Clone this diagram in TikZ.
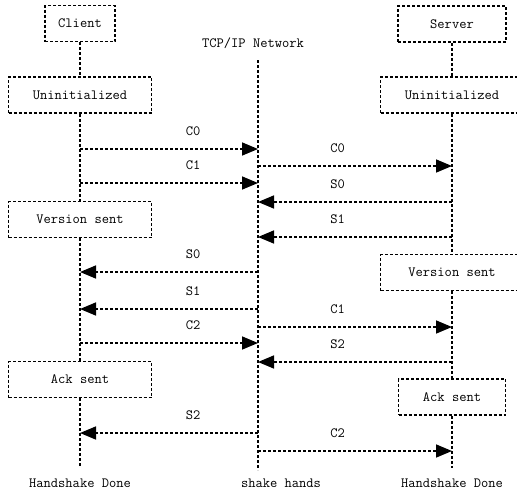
\documentclass[tikz,border=0pt]{standalone}
\usepackage{fontspec}
\usetikzlibrary{
  arrows.meta,
  positioning
}
\tikzset{
  seq/.style={
    line width=1.6pt, dash pattern=on 3pt off 2pt
  },
  phase/.style={
    rectangle, draw, seq,
    minimum width=143pt, minimum height=36pt,
    font=\ttfamily\fontsize{14.1}{16}\selectfont, inner sep=2pt
  },
  actor/.style={
    phase, minimum width=#1
  },
  life/.style={seq},
  msg/.style={seq, -{Triangle[length=16pt,width=13pt]}},
  txt/.style={font=\ttfamily\fontsize{14.1}{16}\selectfont, inner sep=0pt},
  lbl/.style={txt, yshift=18pt}
}

\begin{document}
\begin{tikzpicture}[x=1pt, y=-1pt]

    \useasboundingbox (0,0) rectangle (517,496);
    \clip (0,0) rectangle (517,496);

    %% ---- CLIENT side ----------------------------------------------
    \node[actor=70pt]  (client) at (80,23.5)  {Client};
    \node[phase]       (uniC)   at (80,95)    {Uninitialized};
    \node[phase]       (verC)   at (80,219.5) {Version sent};
    \node[phase]       (ackC)   at (80,379.5) {Ack sent};
    \coordinate (endC) at (80,468);
    \node[txt, below=11pt of endC] (doneC) {Handshake Done};

    \draw[life] (client) -- (uniC);
    \draw[life] (uniC) -- (verC);
    \draw[life] (verC) -- (ackC);
    \draw[life] (ackC) -- (endC);

    %% ---- NETWORK ---------------------------------------------------
    \node[txt] (net) at (253,43) {TCP/IP Network};
    \coordinate (netTop) at (258,60);
    \coordinate (netBot) at (258,470);
    \node[txt, below=9pt of netBot, xshift=23pt] (shake) {shake hands};
    \draw[life] (netTop) -- (netBot);

    %% ---- SERVER side ----------------------------------------------
    \node[actor=108pt] (server) at (452,24)    {Server};
    \node[phase]       (uniS)   at (452,95)    {Uninitialized};
    \node[phase]       (verS)   at (452,272.5) {Version sent};
    \node[actor=107pt] (ackS)   at (452,397)   {Ack sent};
    \coordinate (endS) at (452,468);
    \node[txt, below=11pt of endS] (doneS) {Handshake Done};

    \draw[life] (server) -- (uniS);
    \draw[life] (uniS) -- (verS);
    \draw[life] (verS) -- (ackS);
    \draw[life] (ackS) -- (endS);

    %% ---- message anchors on the lifelines --------------------------
    \foreach \n/\y in {c0/149, c1/183, s0/272, s1/309, c2/343, s2/433} {
      \coordinate (cL\n) at (80,\y);
      \coordinate (nL\n) at (258,\y);
    }
    \foreach \n/\y in {c0/166, s0/202, s1/237, c1/327, s2/362, c2/451} {
      \coordinate (nR\n) at (258,\y);
      \coordinate (sR\n) at (452,\y);
    }

    %% client <-> network
    \draw[msg] (cLc0) -- (nLc0) node[lbl, pos=.635] {C0};
    \draw[msg] (cLc1) -- (nLc1) node[lbl, pos=.635] {C1};
    \draw[msg] (nLs0) -- (cLs0) node[lbl, pos=.365] {S0};
    \draw[msg] (nLs1) -- (cLs1) node[lbl, pos=.365] {S1};
    \draw[msg] (cLc2) -- (nLc2) node[lbl, pos=.635] {C2};
    \draw[msg] (nLs2) -- (cLs2) node[lbl, pos=.365] {S2};

    %% network <-> server
    \draw[msg] (nRc0) -- (sRc0) node[lbl, pos=.41] {C0};
    \draw[msg] (sRs0) -- (nRs0) node[lbl, pos=.59] {S0};
    \draw[msg] (sRs1) -- (nRs1) node[lbl, pos=.59] {S1};
    \draw[msg] (nRc1) -- (sRc1) node[lbl, pos=.41] {C1};
    \draw[msg] (sRs2) -- (nRs2) node[lbl, pos=.59] {S2};
    \draw[msg] (nRc2) -- (sRc2) node[lbl, pos=.41] {C2};

\end{tikzpicture}
\end{document}
